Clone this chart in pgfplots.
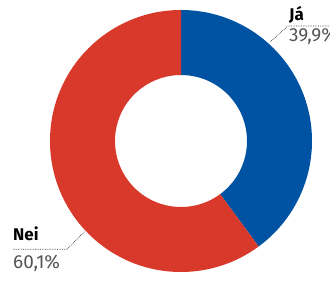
\documentclass[border=0pt]{standalone}
\usepackage{pgfplots}
\pgfplotsset{compat=1.18}
\usetikzlibrary{calc}
\usepackage{fontspec}
\setmainfont{Fira Sans}
\definecolor{jablue}{RGB}{0,82,162}
\definecolor{neired}{RGB}{217,57,42}
\definecolor{txtgray}{RGB}{85,85,85}
\def\valJa{39.9}
\def\valNei{60.1}
\begin{document}
\begin{tikzpicture}[x=1bp,y=1bp]
\begin{axis}[x=1bp,y=1bp,xmin=0,xmax=330,ymin=0,ymax=284,hide axis,scale only axis,clip=false]
% donut centred at (181,143), outer radius 131, inner 66
\fill[jablue] (axis cs:181,274) arc[start angle=90, end angle={90-3.6*\valJa}, radius=131bp]
  -- ($(axis cs:181,143)+({90-3.6*\valJa}:66bp)$) arc[start angle={90-3.6*\valJa}, end angle=90, radius=66bp] -- cycle;
\fill[neired] (axis cs:181,274) arc[start angle=90, end angle={90+3.6*\valNei}, radius=131bp]
  -- ($(axis cs:181,143)+({90+3.6*\valNei}:66bp)$) arc[start angle={90+3.6*\valNei}, end angle=90, radius=66bp] -- cycle;
% labels
\draw[densely dotted, black!80, line width=0.7bp] (axis cs:270,242) -- (axis cs:288,258) -- (axis cs:340,258);
\node[anchor=base west, inner sep=0pt, font=\bfseries\fontsize{17}{17}\selectfont] at (axis cs:289,263.3) {Já};
\node[anchor=base west, inner sep=0pt, text=txtgray, font=\fontsize{19}{19}\selectfont] at (axis cs:289,242.5) {39,9\%};
\draw[densely dotted, black!80, line width=0.7bp] (axis cs:13,34.7) -- (axis cs:67,34.7) -- (axis cs:85,53);
\node[anchor=base west, inner sep=0pt, font=\bfseries\fontsize{17}{17}\selectfont] at (axis cs:13,43.5) {Nei};
\node[anchor=base west, inner sep=0pt, text=txtgray, font=\fontsize{19}{19}\selectfont] at (axis cs:13,15.7) {60,1\%};
\end{axis}
\pgfresetboundingbox
\useasboundingbox (0,0) rectangle (330,284);
\end{tikzpicture}
\end{document}
